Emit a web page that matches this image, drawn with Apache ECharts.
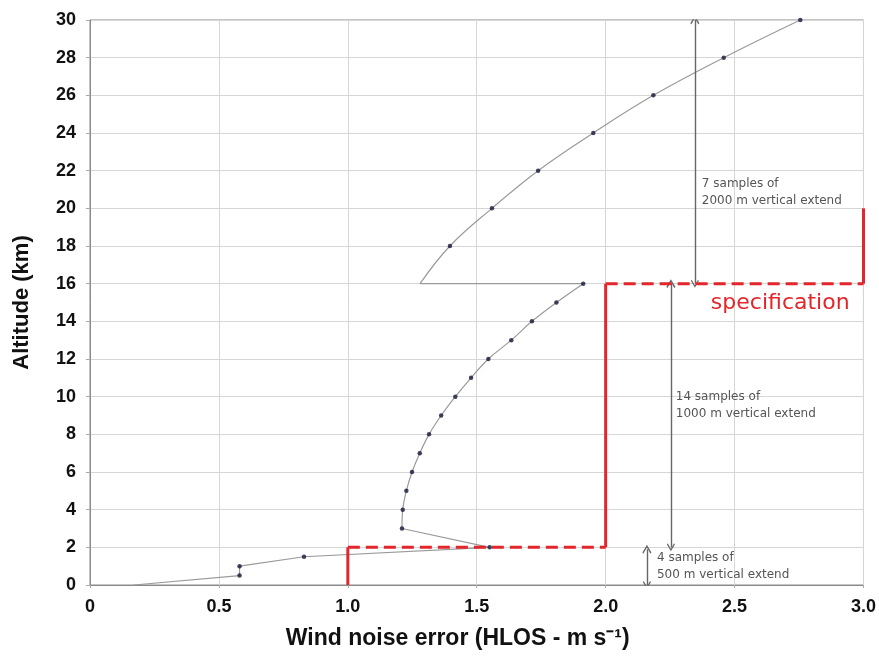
<!DOCTYPE html>
<html>
<head>
<meta charset="utf-8">
<script src="https://cdn.jsdelivr.net/npm/echarts@6/dist/echarts.min.js"></script>
<style>
html,body{margin:0;padding:0;background:#fff;}
#chart{width:879px;height:660px;}
</style>
</head>
<body>
<div id="chart"></div>
<script>
// ---- data (error in m/s, altitude in km) ----
var lowErr  = [0.17, 0.58, 0.58, 0.83, 1.55, 1.21];
var lowAlt  = [0,    0.5,  1.0,  1.5,  2.0,  3.0];
var midErr  = [1.21, 1.213, 1.227, 1.249, 1.279, 1.315, 1.362, 1.417, 1.478, 1.545, 1.634, 1.714, 1.809, 1.913];
var midAlt  = [3,    4,     5,     6,     7,     8,     9,     10,    11,    12,    13,    14,    15,    16];
var joinErr = [1.913, 1.28];
var joinAlt = [16, 16];
var upErr   = [1.28, 1.396, 1.559, 1.738, 1.952, 2.185, 2.458, 2.755];
var upAlt   = [16,   18,    20,    22,    24,    26,    28,    30];
// sample points that carry a dot
var dotErr  = [0.58, 0.58, 0.83, 1.55].concat(midErr).concat(upErr.slice(1));
var dotAlt  = [0.5, 1.0, 1.5, 2.0].concat(midAlt).concat(upAlt.slice(1));
// specification step line
var specErr = [1.0, 1.0, 2.0, 2.0, 3.0, 3.0];
var specAlt = [0,   2,   2,   16,  16,  20];
var specDashed = [false, true, false, true, false];
// vertical sampling arrows
var arrowErr  = [2.346, 2.253, 2.16];
var arrowFrom = [30, 16, 1.9];
var arrowTo   = [16, 2, 0];
var noteText = ['7 samples of\n2000 m vertical extend', '14 samples of\n1000 m vertical extend', '4 samples of\n500 m vertical extend'];
var noteErr  = [2.373, 2.272, 2.199];
var noteAlt  = [20.87, 9.54, 1.01];
var xTicks = [0, 0.5, 1.0, 1.5, 2.0, 2.5, 3.0];

function pairs(xs, ys){ return xs.map(function(x,i){ return [x, ys[i]]; }); }

var series = [];
var grayLine = {color:'#9a9a9a', width:1.2};
series.push({type:'line', data:pairs(lowErr, lowAlt), showSymbol:false, symbol:'none', lineStyle:grayLine, z:3});
series.push({type:'line', data:pairs(midErr, midAlt), smooth:0.4, symbol:'none', lineStyle:grayLine, z:3});
series.push({type:'line', data:pairs(joinErr, joinAlt), symbol:'none', lineStyle:grayLine, z:3});
series.push({type:'line', data:pairs(upErr, upAlt), smooth:0.4, symbol:'none', lineStyle:grayLine, z:3});
series.push({type:'scatter', data:pairs(dotErr, dotAlt), symbolSize:4.5, itemStyle:{color:'#15163a'}, z:6});
for (var i=0;i<specErr.length-1;i++){
  series.push({type:'line', clip:false, symbol:'none', z:5,
    data:[[specErr[i],specAlt[i]],[specErr[i+1],specAlt[i+1]]],
    lineStyle:{color:'#e3262b', width:3, type: specDashed[i] ? [12,6] : 'solid', cap:'butt'}});
}
var chev = 'path://M5,0 L10,7 L9,8.2 L5,2.6 L1,8.2 L0,7 Z';
series.push({type:'lines', coordinateSystem:'cartesian2d', z:4,
  symbol:[chev, chev], symbolSize:[9,8],
  lineStyle:{color:'#666', width:1.4, opacity:1},
  data: arrowErr.map(function(x,i){ return {coords:[[x,arrowFrom[i]],[x,arrowTo[i]]]}; })
});

var chart = echarts.init(document.getElementById('chart'), null, {renderer:'canvas'});
chart.setOption({
  animation:false,
  backgroundColor:'#fff',
  grid:{left:90, right:14, top:20, bottom:75, show:true, borderColor:'#8a8a8a', borderWidth:1},
  xAxis:{type:'value', min:0, max:3, interval:0.5,
    name:'Wind noise error (HLOS - m s⁻¹)', nameLocation:'middle', nameGap:42,
    nameTextStyle:{fontFamily:'Liberation Sans', fontWeight:'bold', fontSize:23, color:'#111', padding:[0,38,0,0]},
    axisLine:{show:true, lineStyle:{color:'#8a8a8a'}},
    axisTick:{show:true, length:3, lineStyle:{color:'#aaa'}},
    axisLabel:{fontFamily:'Liberation Sans', fontWeight:'bold', fontSize:18, color:'#111', margin:13,
      formatter:function(v){ return v===0 ? '0' : v.toFixed(1); }},
    splitLine:{show:true, lineStyle:{color:'#d6d6d6', width:1}}
  },
  yAxis:{type:'value', min:0, max:30, interval:2,
    name:'Altitude (km)', nameLocation:'middle', nameGap:57, nameRotate:90,
    nameTextStyle:{fontFamily:'Liberation Sans', fontWeight:'bold', fontSize:22, color:'#111'},
    axisLine:{show:true, lineStyle:{color:'#8a8a8a'}},
    axisTick:{show:true, length:4, lineStyle:{color:'#aaa'}},
    axisLabel:{fontFamily:'Liberation Sans', fontWeight:'bold', fontSize:18, color:'#111', margin:14},
    splitLine:{show:true, lineStyle:{color:'#d6d6d6', width:1}}
  },
  series:series
});

var g = [];
noteText.forEach(function(t,i){
  var p = chart.convertToPixel({gridIndex:0}, [noteErr[i], noteAlt[i]]);
  g.push({type:'text', x:p[0], y:p[1], z:10, style:{text:t, fontFamily:'DejaVu Sans', fontSize:12, lineHeight:17,
    fill:'#555', textAlign:'left', textVerticalAlign:'middle'}});
});
var sp = chart.convertToPixel({gridIndex:0}, [2.408, 14.97]);
g.push({type:'text', x:sp[0], y:sp[1], z:10, style:{text:'specification', fontFamily:'DejaVu Sans', fontSize:22,
  fill:'#e3262b', textAlign:'left', textVerticalAlign:'middle'}});
chart.setOption({graphic:g});
</script>
</body>
</html>
